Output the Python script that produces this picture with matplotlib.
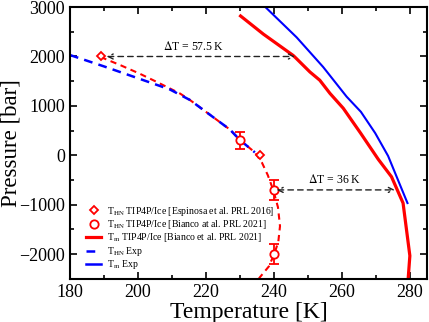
import matplotlib
matplotlib.use("Agg")
import matplotlib.pyplot as plt
from matplotlib.ticker import MultipleLocator

plt.rcParams['font.family'] = ['Liberation Serif', 'DejaVu Serif']
plt.rcParams['mathtext.fontset'] = 'stix'

# T_HN TIP4P/Ice (dashed red guide curve)
thn_sim_T = [189, 195, 200.6, 206, 212.4, 215.3, 221.2, 227.1, 230, 234.4, 236.5,
             238.2, 239.8, 241.2, 241.8, 241.3, 240.1, 238.5, 235.9, 235.0]
thn_sim_P = [1990, 1820, 1650, 1470, 1250, 1120, 820, 520, 310, 60, -150,
             -400, -700, -1050, -1433, -1750, -2000, -2250, -2466, -2550]

# T_HN experimental
thn_exp_T = [180, 190, 200, 209.4, 215.3, 221.2, 227.1, 230, 234.4]
thn_exp_P = [2030, 1800, 1560, 1333, 1120, 820, 520, 310, 60]

# T_m TIP4P/Ice
tm_sim_T = [230.2, 236.9, 245.7, 246.7, 250.6, 253.5, 256.5, 260.4, 265.5, 270.7,
            274.6, 278.0, 280.0, 279.5]
tm_sim_P = [2820, 2453, 2020, 1953, 1687, 1520, 1253, 953, 450, -80,
            -434, -966, -2033, -2500]

# T_m experimental
tm_exp_T = [237.5, 246.7, 254.5, 261.4, 265.6, 269.8, 273.6, 279.3]
tm_exp_P = [3000, 2387, 1787, 1187, 880, 450, -13, -966]

# symbols
esp_T = [189, 236]
esp_P = [2000, 0]
bia_T = [230, 240, 240]
bia_P = [300, -700, -2000]
bia_err = [180, 200, 200]

fig = plt.figure(figsize=(4.29, 3.22), dpi=100)
ax = fig.add_axes([0.163, 0.134, 0.832, 0.844])

ax.plot(thn_sim_T, thn_sim_P, color='red', lw=1.5, dashes=(3, 2.2))
ax.plot(thn_exp_T, thn_exp_P, color='blue', lw=1.8, dashes=(3.5, 2.5))
ax.plot(tm_sim_T, tm_sim_P, color='red', lw=2.3)
ax.plot(tm_exp_T, tm_exp_P, color='blue', lw=1.5)

ax.plot(esp_T, esp_P, 'D', ms=4.5, mfc='white', mec='red', mew=1.3, ls='none')
ax.errorbar(bia_T, bia_P, yerr=bia_err, fmt='o', ms=6, mfc='white', mec='red',
            mew=1.3, ecolor='red', elinewidth=1.3, capsize=3.5, capthick=1.3)

# legend proxies
h1, = ax.plot([], [], 'D', ms=4.5, mfc='white', mec='red', mew=1.3)
h2, = ax.plot([], [], 'o', ms=6, mfc='white', mec='red', mew=1.3)
h3, = ax.plot([], [], color='red', lw=2.3)
h4, = ax.plot([], [], color='blue', lw=1.8, dashes=(3.5, 2.5, 1, 2.5))
h5, = ax.plot([], [], color='blue', lw=1.8)
ax.legend([h1, h2, h3, h4, h5],
          [r'T$_{\rm HN}$ TIP4P/Ice [Espinosa et al. PRL 2016]',
           r'T$_{\rm HN}$ TIP4P/Ice [Bianco at al. PRL 2021]',
           r'T$_{\rm m}$ TIP4P/Ice [Bianco et al. PRL 2021]',
           r'T$_{\rm HN}$ Exp',
           r'T$_{\rm m}$ Exp'],
          loc='lower left', bbox_to_anchor=(0.02, -0.005), frameon=False,
          fontsize=7, handlelength=1.6, handletextpad=0.6, labelspacing=0.05)

# delta T arrows
arr = dict(arrowstyle='<->', ls=(0, (4, 3)), lw=1.0, color='#222222',
           shrinkA=0, shrinkB=0, mutation_scale=9)
ax.annotate('', xy=(246.2, 2000), xytext=(190.8, 2000), arrowprops=arr)
ax.text(216.5, 2200, r'$\Delta$T = 57.5 K', ha='center', va='center', fontsize=8.5)
ax.annotate('', xy=(275.6, -700), xytext=(240.8, -700), arrowprops=arr)
ax.text(258, -480, r'$\Delta$T = 36 K', ha='center', va='center', fontsize=8.5)

ax.set_xlim(180, 285)
ax.set_ylim(-2500, 3000)
ax.xaxis.set_major_locator(MultipleLocator(20))
ax.xaxis.set_minor_locator(MultipleLocator(10))
ax.yaxis.set_major_locator(MultipleLocator(1000))
ax.yaxis.set_minor_locator(MultipleLocator(500))
ax.tick_params(which='both', direction='in', top=True, right=True, width=1.2,
               labelsize=13)
ax.tick_params(which='major', length=5)
ax.tick_params(which='minor', length=3)
for s in ax.spines.values():
    s.set_linewidth(1.5)

ax.set_xlabel('Temperature [K]', fontsize=17, labelpad=1)
ax.set_ylabel('Pressure [bar]', fontsize=16.5)
ax.yaxis.set_label_coords(-0.135, 0.5)

fig.savefig('out.png', dpi=100)
